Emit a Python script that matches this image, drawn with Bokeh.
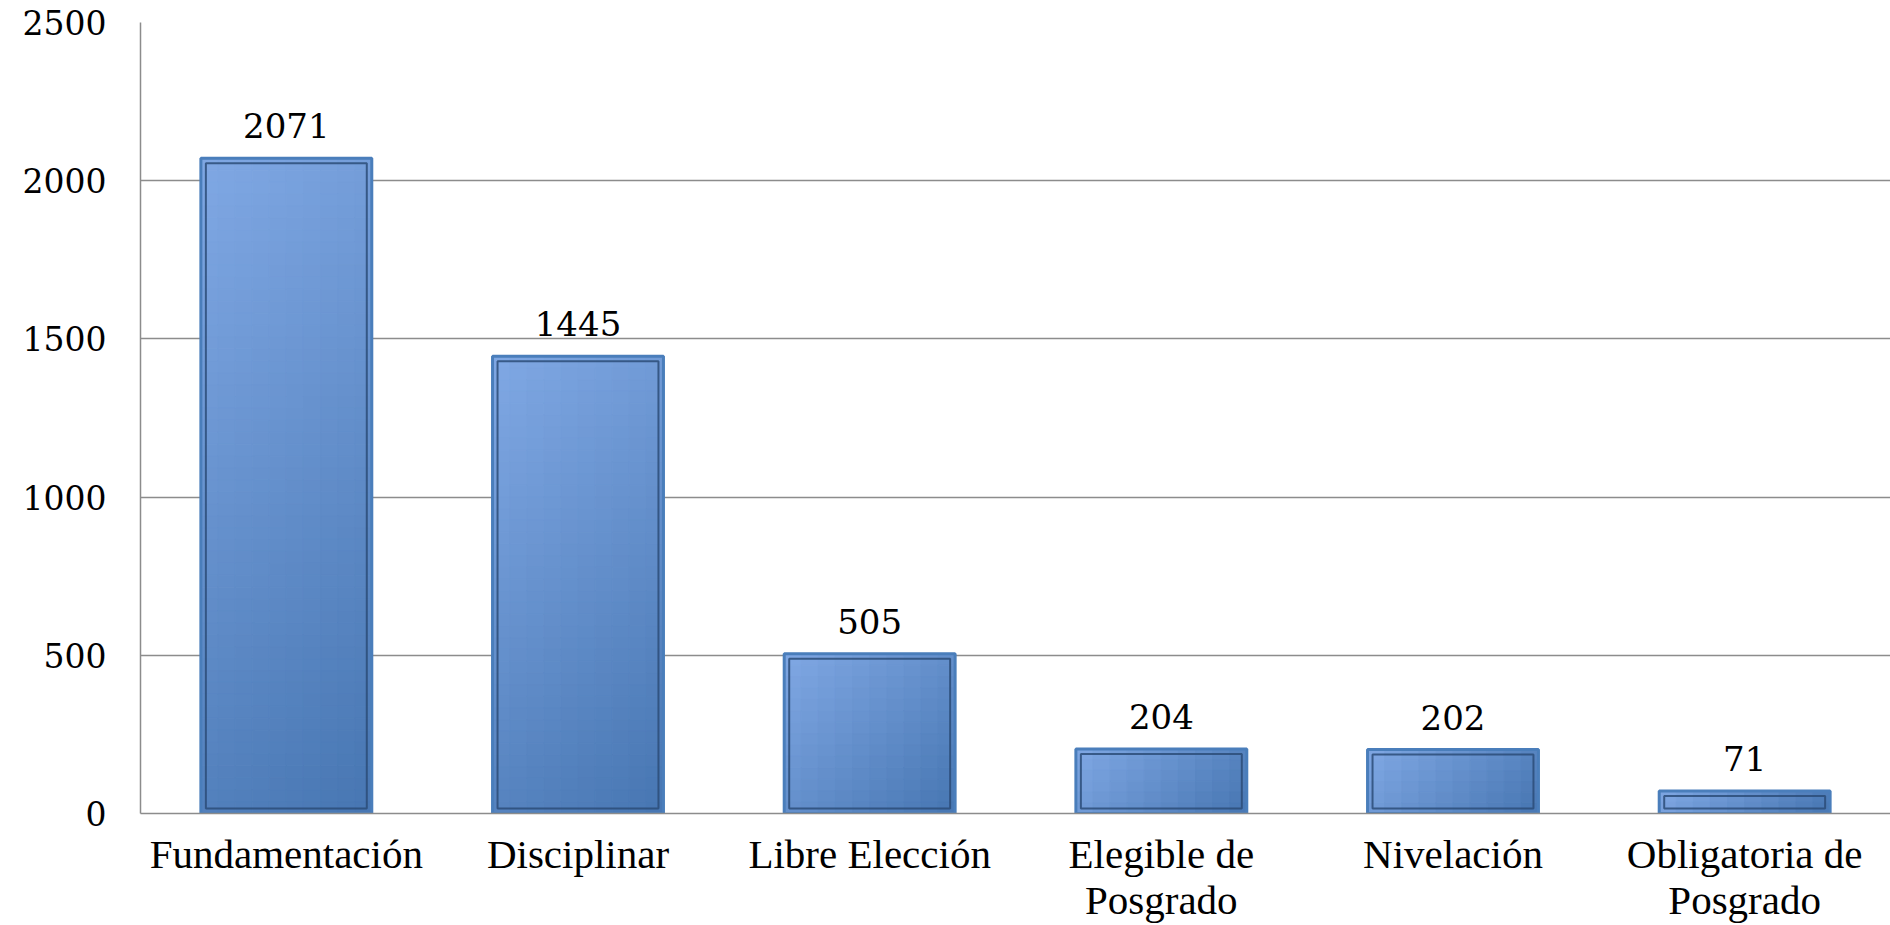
import math
import numpy as np
from bokeh.plotting import figure
from bokeh.models import Range1d, FixedTicker, ColumnDataSource, LabelSet
from bokeh.core.properties import value
from bokeh.embed import file_html
from bokeh.resources import INLINE

# ---- data ----
categories = ["Fundamentación", "Disciplinar", "Libre Elección",
              "Elegible de\nPosgrado", "Nivelación", "Obligatoria de\nPosgrado"]
values = [2071, 1445, 505, 204, 202, 71]
y_ticks = [0, 500, 1000, 1500, 2000, 2500]

# ---- layout ----
W, H = 1890, 925
BL, BT, BB, BR = 140, 22, 112, 0
FRAME_W = W - BL - BR
FRAME_H = H - BT - BB
N = len(categories)
CAT_PX = FRAME_W / N
Y_MAX = 2500
PX_PER_Y = FRAME_H / Y_MAX
BAR_W = 0.586

xpos = [i + 0.5 for i in range(N)]

p = figure(width=W, height=H, output_backend="svg", toolbar_location=None,
           x_range=Range1d(0, N), y_range=Range1d(0, Y_MAX),
           min_border_left=BL, min_border_right=BR, min_border_top=BT,
           min_border_bottom=BB, tools="")
p.outline_line_color = None
p.background_fill_color = "white"
p.border_fill_color = "white"

# ---- gradient fill (built from cells) ----
c0 = np.array([0x80, 0xa8, 0xe4], float)
c1 = np.array([0x47, 0x76, 0xb2], float)
L, R, T, B, C = [], [], [], [], []
bw_px = BAR_W * CAT_PX
for x, v in zip(xpos, values):
    h_px = v * PX_PER_Y
    nx = 10
    ny = max(2, int(math.ceil(h_px / 12)))
    for ix in range(nx):
        for iy in range(ny):
            u0, u1 = ix / nx, (ix + 1) / nx
            w0, w1 = iy / ny, (iy + 1) / ny  # from top
            xc = (u0 + u1) / 2 * bw_px
            yc = (w0 + w1) / 2 * h_px
            t = (xc + yc) / (bw_px + h_px)
            col = c0 + (c1 - c0) * t
            L.append(x - BAR_W / 2 + u0 * BAR_W)
            R.append(x - BAR_W / 2 + u1 * BAR_W)
            T.append(v - w0 * v)
            B.append(v - w1 * v)
            C.append("#%02x%02x%02x" % tuple(int(round(c)) for c in col))
grad = ColumnDataSource(dict(left=L, right=R, top=T, bottom=B, color=C))
p.quad(left="left", right="right", top="top", bottom="bottom", source=grad,
       fill_color="color", line_color="color", line_width=1)

# outer border
src = ColumnDataSource(dict(x=xpos, top=values, label=[str(v) for v in values]))
p.vbar(x="x", top="top", bottom=0, width=BAR_W, source=src,
       fill_color=None, line_color="#4a7ebb", line_width=3)

# inner dark line
ix_in = 5 / CAT_PX
iy_in = 5 / PX_PER_Y
p.quad(left=[x - BAR_W / 2 + ix_in for x in xpos],
       right=[x + BAR_W / 2 - ix_in for x in xpos],
       top=[v - iy_in for v in values],
       bottom=[iy_in for _ in values],
       fill_color=None, line_color="#2b4c78", line_alpha=0.85, line_width=2)

# data labels
labels = LabelSet(x="x", y="top", text="label", source=src,
                  text_align="center", text_baseline="alphabetic",
                  y_offset=20, text_font=value("DejaVu Serif"),
                  text_font_size=value("34px"), text_color="black")
p.add_layout(labels)

# ---- axes ----
p.xaxis.ticker = FixedTicker(ticks=xpos)
p.xaxis.major_label_overrides = {x: c for x, c in zip(xpos, categories)}
p.xaxis.major_label_text_font = "Liberation Serif"
p.xaxis.major_label_text_font_size = "41px"
p.xaxis.major_label_text_line_height = 1.0
p.xaxis.major_label_text_color = "black"
p.xaxis.major_label_standoff = 17
p.xaxis.major_tick_line_color = None
p.xaxis.major_tick_out = 0
p.xaxis.major_tick_in = 0
p.xaxis.minor_tick_line_color = None
p.xaxis.minor_tick_out = 0
p.xaxis.axis_line_color = "#8c8c8c"
p.xaxis.axis_line_width = 1.5

p.yaxis.ticker = FixedTicker(ticks=y_ticks)
p.yaxis.major_label_text_font = "DejaVu Serif"
p.yaxis.major_label_text_font_size = "33px"
p.yaxis.major_label_text_color = "black"
p.yaxis.major_label_standoff = 34
p.yaxis.major_tick_line_color = None
p.yaxis.major_tick_out = 0
p.yaxis.major_tick_in = 0
p.yaxis.minor_tick_line_color = None
p.yaxis.minor_tick_out = 0
p.yaxis.axis_line_color = "#8c8c8c"
p.yaxis.axis_line_width = 1.5

p.xgrid.grid_line_color = None
p.ygrid.grid_line_color = "#8c8c8c"
p.ygrid.grid_line_width = 1.5
p.ygrid.ticker = FixedTicker(ticks=y_ticks)

open("out.html", "w").write(file_html(p, INLINE))
